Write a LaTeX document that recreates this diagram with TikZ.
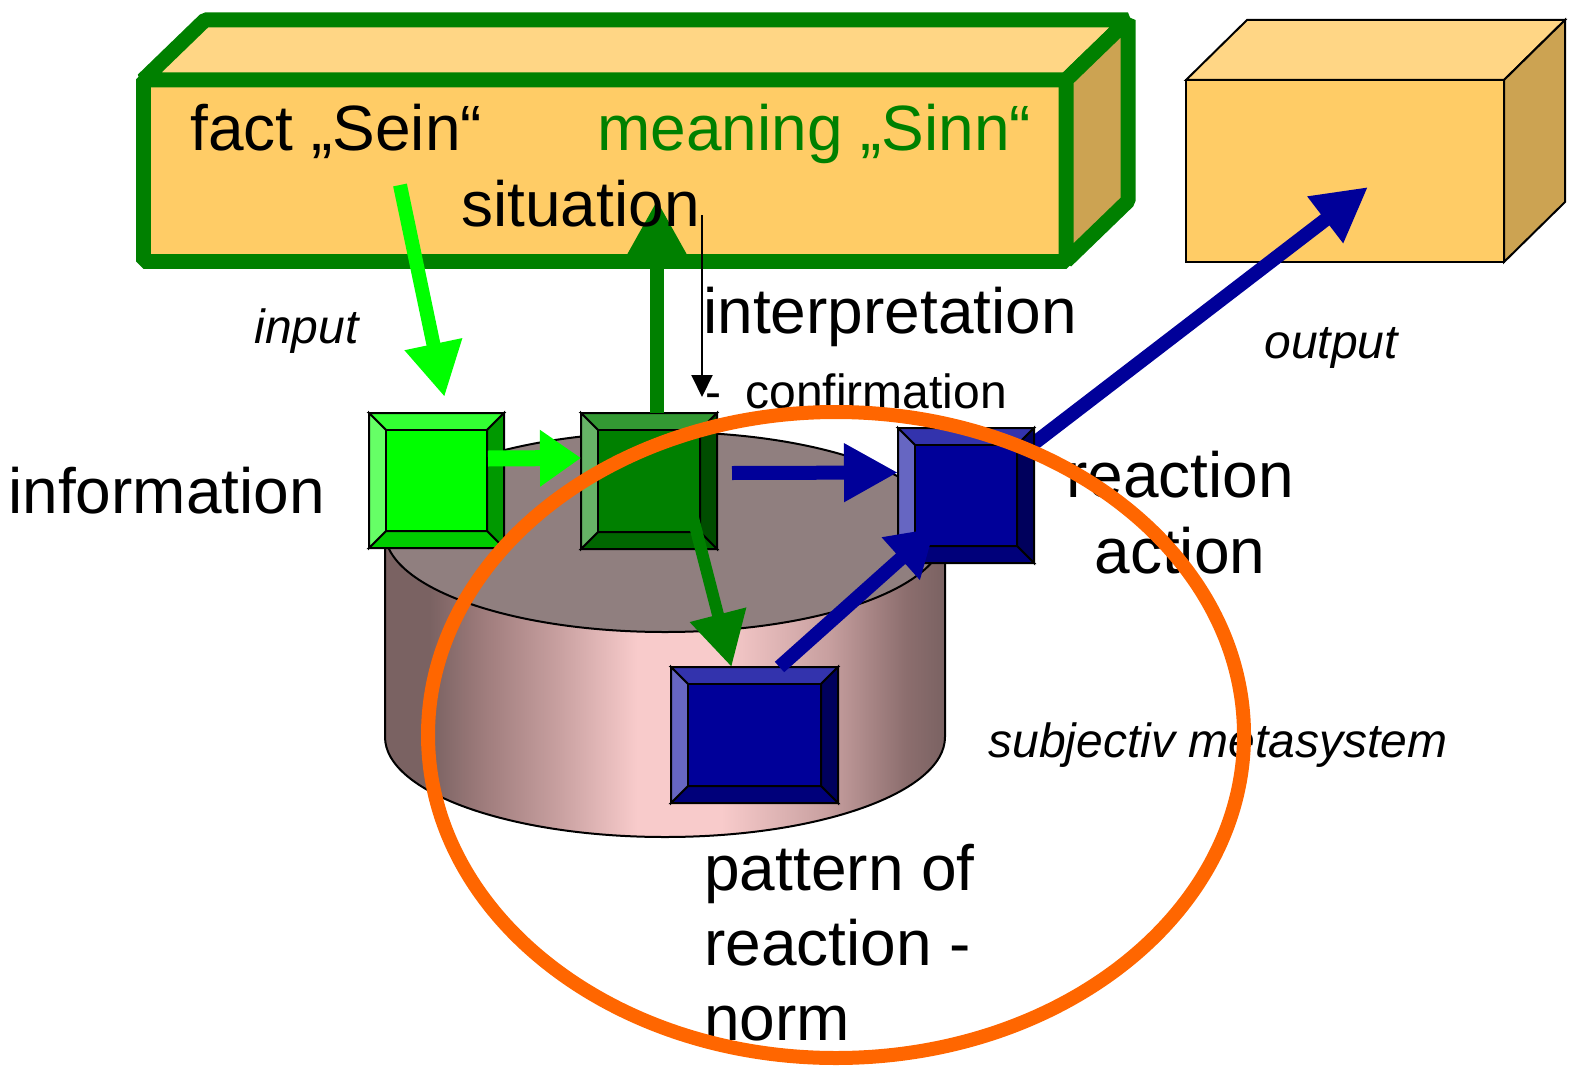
\documentclass[tikz,border=0pt]{standalone}
\usepackage{fontspec}
\setmainfont{Liberation Sans}
\usetikzlibrary{arrows.meta,calc}

\definecolor{sitF}{HTML}{FFCC66}
\definecolor{sitT}{HTML}{FFD685}
\definecolor{sitR}{HTML}{CCA352}
\definecolor{sitgreen}{HTML}{008000}
\definecolor{lgI}{HTML}{00FF00}
\definecolor{lgT}{HTML}{33FF33}
\definecolor{lgL}{HTML}{66FF66}
\definecolor{lgR}{HTML}{009900}
\definecolor{lgB}{HTML}{00CC00}
\definecolor{dgI}{HTML}{008000}
\definecolor{dgT}{HTML}{339933}
\definecolor{dgL}{HTML}{66B366}
\definecolor{dgR}{HTML}{004D00}
\definecolor{dgB}{HTML}{006600}
\definecolor{blI}{HTML}{000099}
\definecolor{blT}{HTML}{3333AD}
\definecolor{blL}{HTML}{6666C2}
\definecolor{blR}{HTML}{00005C}
\definecolor{blB}{HTML}{00007A}
\definecolor{cyltop}{RGB}{144,127,127}
\definecolor{cylD}{RGB}{122,98,98}
\definecolor{cylA}{RGB}{160,125,125}
\definecolor{cylM}{RGB}{200,160,160}
\definecolor{cylE}{RGB}{140,110,110}
\definecolor{cylL}{RGB}{248,203,203}
\definecolor{ring}{HTML}{FF6600}

\pgfdeclarehorizontalshading{cylside}{100bp}{color(0bp)=(cylD); color(25bp)=(cylD);
  color(29bp)=(cylD); color(34bp)=(cylA); color(40.5bp)=(cylM); color(47.5bp)=(cylL);
  color(55bp)=(cylL); color(64.5bp)=(cylM); color(71.5bp)=(cylE);
  color(75bp)=(cylD); color(100bp)=(cylD)}

% bevelled box: name, centre, width, height, colour prefix
\newcommand{\bevbox}[5]{%
  \node[minimum width=#3*0.5pt, minimum height=#4*0.5pt, inner sep=0pt, outer sep=0pt] (#1) at (#2) {};
  \coordinate (#1-a) at ($(#1.north west)+(17,17)$);
  \coordinate (#1-b) at ($(#1.north east)+(-17,17)$);
  \coordinate (#1-c) at ($(#1.south east)+(-17,-17)$);
  \coordinate (#1-d) at ($(#1.south west)+(17,-17)$);
  \filldraw[bevel, fill=#5T] (#1.north west) -- (#1.north east) -- (#1-b) -- (#1-a) -- cycle;
  \filldraw[bevel, fill=#5R] (#1.north east) -- (#1.south east) -- (#1-c) -- (#1-b) -- cycle;
  \filldraw[bevel, fill=#5B] (#1.south east) -- (#1.south west) -- (#1-d) -- (#1-c) -- cycle;
  \filldraw[bevel, fill=#5L] (#1.south west) -- (#1.north west) -- (#1-a) -- (#1-d) -- cycle;
  \filldraw[bevel, fill=#5I] (#1-a) rectangle (#1-c);
}

\tikzset{
  bevel/.style={draw=black, line width=1pt, line join=miter},
  sitline/.style={draw=sitgreen, line width=7.5pt, line join=bevel},
  bigtext/.style={font=\fontsize{32pt}{38pt}\selectfont, inner sep=0pt},
  smalltext/.style={font=\fontsize{24pt}{28pt}\selectfont, inner sep=0pt},
  slanttext/.style={font=\fontsize{24pt}{28pt}\selectfont\itshape, inner sep=0pt},
  fat/.style={line width=7pt, -{Triangle[length=27pt,width=27.5pt]}},
}

\begin{document}
\begin{tikzpicture}[x=0.5pt, y=-0.5pt]
  \useasboundingbox (0,0) rectangle (1573,1065);

  % situation box
  \node[sitline, fill=sitF, minimum width=461.5pt, minimum height=90.5pt,
        inner sep=0pt, outer sep=0pt] (sit) at (604.5,170.5) {};
  \filldraw[sitline, fill=sitT] (sit.north west) -- ($(sit.north west)+(62,-60)$)
     -- ($(sit.north east)+(62,-60)$) -- (sit.north east) -- cycle;
  \filldraw[sitline, fill=sitR] (sit.north east) -- ($(sit.north east)+(62,-60)$)
     -- ($(sit.south east)+(62,-60)$) -- (sit.south east) -- cycle;

  % output box
  \node[draw=black, line width=1pt, fill=sitF, minimum width=159pt, minimum height=91pt,
        inner sep=0pt, outer sep=0pt] (outbox) at (1345,171) {};
  \filldraw[line width=1pt, fill=sitT] (outbox.north west) -- ($(outbox.north west)+(61,-60)$)
     -- ($(outbox.north east)+(61,-60)$) -- (outbox.north east) -- cycle;
  \filldraw[line width=1pt, fill=sitR] (outbox.north east) -- ($(outbox.north east)+(61,-60)$)
     -- ($(outbox.south east)+(61,-60)$) -- (outbox.south east) -- cycle;

  % memory cylinder
  \path[shading=cylside] (385,532) -- (385,737) arc[start angle=180, end angle=0, x radius=280, y radius=100]
     -- (945,532) -- cycle;
  \draw[line width=1pt] (385,532) -- (385,737) arc[start angle=180, end angle=0, x radius=280, y radius=100]
     -- (945,532);
  \draw[line width=1pt, fill=cyltop] (665,532) ellipse[x radius=280, y radius=100];

  \coordinate (inS) at (400,185);
  \coordinate (upT) at (657,200);
  \coordinate (intS) at (702,215);
  \coordinate (intE) at (702,397);

  \bevbox{info}{436.5,480.5}{135}{135}{lg}
  \bevbox{proc}{649,481}{136}{136}{dg}
  \bevbox{norm}{754.5,735}{167}{136}{bl}
  \draw[fat, blI] (966,495.5) -- ($(outbox.center)+(23,16)$);
  \bevbox{react}{966,495.5}{136}{135}{bl}

  % connectors
  \draw[fat, lgI] (inS) -- ($(info.north)+(8,-16)$);
  \draw[lgI, line width=8pt, -{Triangle[length=20.5pt,width=27pt]}] ($(info.east)+(-16,-22)$) -- ($(proc.west)+(0,-23)$);
  \draw[fat, sitgreen] ($(proc.north)+(8,0)$) -- (upT);
  \draw[fat, blI] ($(proc.east)+(15,-8)$) -- ($(react.west)+(0,-23)$);
  \draw[sitgreen, line width=6pt, -{Triangle[length=27pt,width=27.5pt]}] ($(proc.center)+(44,37)$) -- ($(norm.north)+(-23,0)$);
  \draw[blI, line width=7pt, -{Triangle[length=23pt,width=27pt]}] ($(norm.north)+(25,0)$) -- ($(react.south west)+(37,-35)$);
  \draw[line width=1pt, -{Triangle[length=11pt,width=10.5pt]}] (intS) -- (intE);

  % labels
  \node[bigtext, anchor=base west] (fact) at (190,150) {fact „Sein“};
  \node[bigtext, anchor=base west, text=sitgreen] (mean) at (597,150) {meaning „Sinn“};
  \node[bigtext, anchor=base west] (situ) at (461,226) {situation};
  \node[bigtext, anchor=base west] (interp) at (703,333) {interpretation};
  \node[smalltext, anchor=base west] (confirm) at (705,408) {-\enspace confirmation};
  \node[bigtext, anchor=base west] (infotext) at (8,513) {information};
  \node[slanttext, anchor=base west] (input) at (254,343) {input};
  \node[slanttext, anchor=base west] (output) at (1264,358) {output};
  \node[bigtext, anchor=base, align=center] (reacttext) at (1180,573) {reaction\\action};
  \node[slanttext, anchor=base west] (meta) at (988,757) {subjectiv metasystem};
  \node[bigtext, anchor=base west, align=left, font=\fontsize{32pt}{37.5pt}\selectfont] (normtext) at (704,1040) {pattern of\\reaction -\\norm};

  % subjective ring
  \draw[ring, line width=7pt] (836,735) ellipse[x radius=408, y radius=323];
\end{tikzpicture}
\end{document}
